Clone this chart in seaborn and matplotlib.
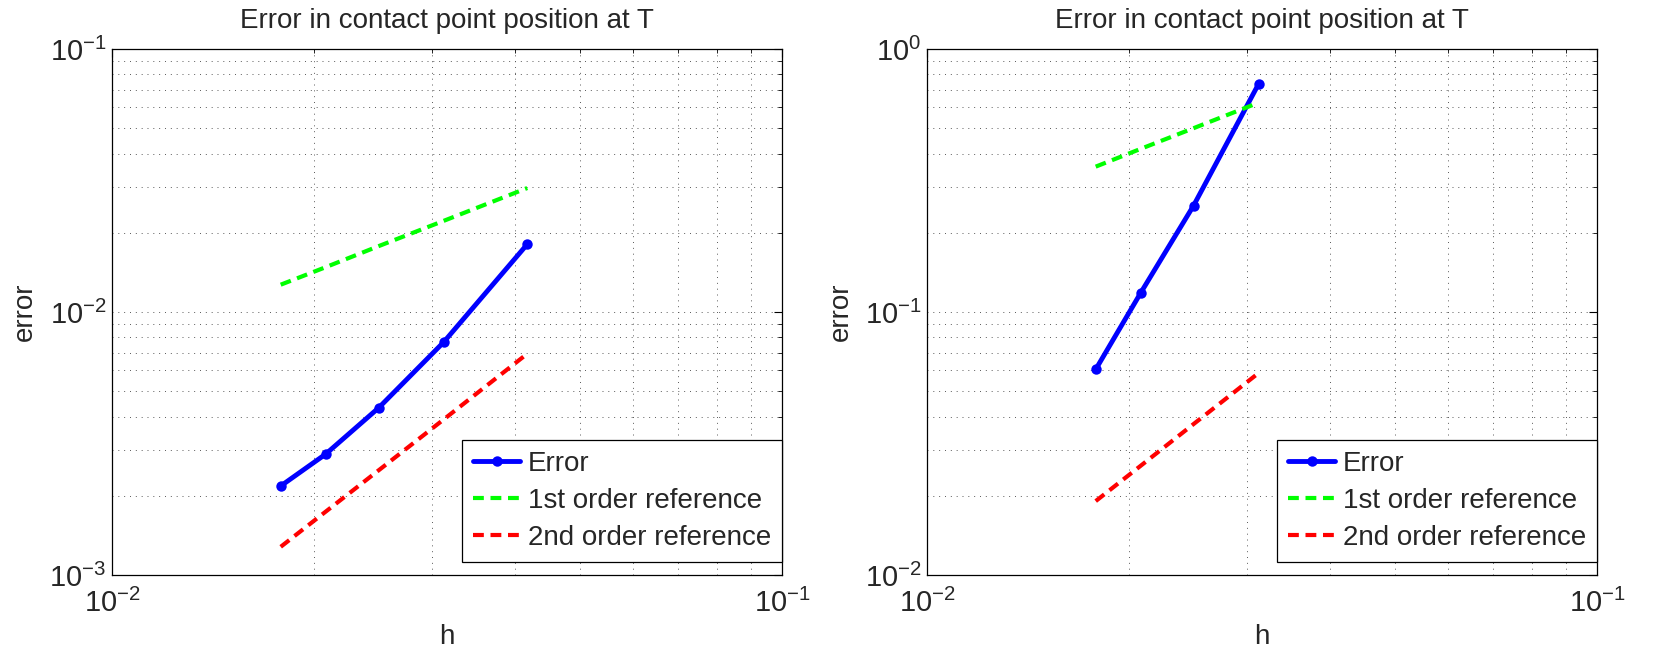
import matplotlib
matplotlib.use('Agg')
import matplotlib.pyplot as plt
import seaborn as sns
import pandas as pd
from matplotlib.ticker import NullFormatter

# Mesh sizes h = 1/56 ... 1/24
h_left = [1/56, 1/48, 1/40, 1/32, 1/24]
err_left = [0.00218, 0.00288, 0.00432, 0.00767, 0.0181]
ref1_left = [0.0127, 0.0148, 0.0178, 0.0222, 0.0296]
ref2_left = [0.00128, 0.00174, 0.0025, 0.0039, 0.00694]

h_right = [1/56, 1/48, 1/40, 1/32]
err_right = [0.0605, 0.118, 0.254, 0.736]
ref1_right = [0.357, 0.417, 0.5, 0.625]
ref2_right = [0.0191, 0.026, 0.0375, 0.0586]

ylims = [(1e-3, 1e-1), (1e-2, 1e0)]
title = 'Error in contact point position at T'
labels = ['Error', '1st order reference', '2nd order reference']

sns.set_theme(style='white')
plt.rcParams['font.family'] = ['Liberation Sans', 'DejaVu Sans']
plt.rcParams['mathtext.default'] = 'regular'

fig = plt.figure(figsize=(16.8, 6.5), dpi=100)
positions = [[112/1680, 75/650, 670/1680, 526/650],
             [927/1680, 75/650, 670/1680, 526/650]]

dash = (0, (2.6, 1.6))
panels = [(h_left, err_left, ref1_left, ref2_left),
          (h_right, err_right, ref1_right, ref2_right)]

for i, (h, err, r1, r2) in enumerate(panels):
    ax = fig.add_axes(positions[i])
    df = pd.DataFrame({'h': h, 'err': err, 'r1': r1, 'r2': r2})
    sns.lineplot(data=df, x='h', y='err', ax=ax, color='#0000ff', lw=3.5,
                 marker='o', ms=7.5, mec='#0000ff', mew=0, label=labels[0])
    sns.lineplot(data=df, x='h', y='r1', ax=ax, color='#00ff00', lw=3,
                 linestyle=dash, label=labels[1])
    sns.lineplot(data=df, x='h', y='r2', ax=ax, color='#ff0000', lw=3,
                 linestyle=dash, label=labels[2])
    ax.set(xscale='log', yscale='log')
    ax.set_xlim(1e-2, 1e-1)
    ax.set_ylim(*ylims[i])
    ax.xaxis.set_minor_formatter(NullFormatter())
    ax.yaxis.set_minor_formatter(NullFormatter())
    ax.grid(True, which='both', color='0.35', lw=0.7, linestyle=(0, (1, 5)))
    ax.tick_params(which='both', direction='in', top=True, right=True,
                   labelsize=21, color='black')
    ax.tick_params(which='major', length=6, width=0.8)
    ax.tick_params(which='minor', length=3, width=0.6)
    ax.tick_params(axis='x', pad=10)
    ax.tick_params(axis='y', pad=4)
    for s in ax.spines.values():
        s.set_color('black')
        s.set_linewidth(0.9)
    ax.set_title(title, fontsize=20, pad=15)
    ax.set_xlabel('h', fontsize=20, labelpad=4)
    ax.set_ylabel('error', fontsize=20, labelpad=8)
    leg = ax.legend(loc='lower right', bbox_to_anchor=(1, 13/526),
                    borderaxespad=0, fontsize=20, handlelength=1.7,
                    handletextpad=0.27, labelspacing=0.4, fancybox=False,
                    framealpha=1, edgecolor='black', borderpad=0.4)
    leg.get_frame().set_linewidth(0.9)

fig.savefig('out.png', dpi=100, facecolor='white')
